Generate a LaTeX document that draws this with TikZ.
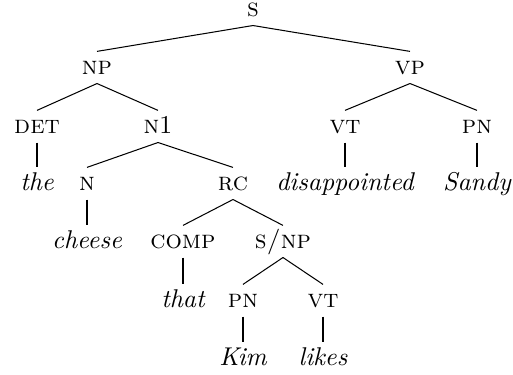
\documentclass[tikz,border=0pt]{standalone}
\usepackage{tikz}
\usetikzlibrary{positioning}

\begin{document}
\begin{tikzpicture}[x=0.389pt,y=-0.389pt,
	cat/.style={inner sep=0pt, anchor=base, text height=8.6pt, text depth=3.5pt},
	word/.style={cat, font=\itshape}]
	\useasboundingbox (0,0) rectangle (513,374);

	% categories and words, placed at their baselines
	\node[cat, text height=5pt] (s) at (253,16) {\textsc{s}};
	\node[cat] (np) at (97,74) {\textsc{np}};
	\node[cat] (vp) at (410,74) {\textsc{vp}};
	\node[cat] (det) at (37,133) {\textsc{det}};
	\node[cat] (nbar) at (158,133) {\textsc{n}1};
	\node[cat] (vt) at (345,133) {\textsc{vt}};
	\node[cat] (pn) at (477,133) {\textsc{pn}};
	\node[word] (the) at (37,190) {the};
	\node[cat] (n) at (87,190) {\textsc{n}};
	\node[cat] (rc) at (233,190) {\textsc{rc}};
	\node[word] (disap) at (345,190) {disappointed};
	\node[word] (sandy) at (477,190) {Sandy};
	\node[word] (cheese) at (87,248) {cheese};
	\node[cat] (comp) at (183,248) {\textsc{comp}};
	\node[cat] (snp) at (283,248) {\textsc{s/np}};
	\node[word] (that) at (183,307) {that};
	\node[cat] (pnb) at (243,307) {\textsc{pn}};
	\node[cat] (vtb) at (323,307) {\textsc{vt}};
	\node[word] (kim) at (243,365) {Kim};
	\node[word] (likes) at (323,365) {likes};

	% branches
	\foreach \a/\b in {s/np, s/vp, np/det, np/nbar, vp/vt, vp/pn, det/the, nbar/n, nbar/rc,
		vt/disap, pn/sandy, n/cheese, rc/comp, rc/snp, comp/that, snp/pnb, snp/vtb, pnb/kim, vtb/likes}
		{\draw (\a.south) -- (\b.north);}
\end{tikzpicture}
\end{document}
